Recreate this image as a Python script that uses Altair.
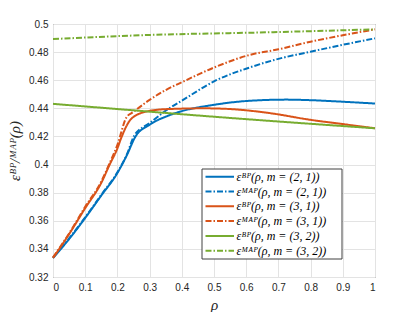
import altair as alt
import pandas as pd

# ---- data ----
bp21_rho = [0, 0.05, 0.1, 0.15, 0.2, 0.23, 0.255, 0.3, 0.357, 0.4, 0.5, 0.6, 0.725, 0.8, 0.9, 1.0]
bp21_val = [0.3335, 0.347, 0.362, 0.378, 0.394, 0.407, 0.4195, 0.4283, 0.4347, 0.438, 0.4425, 0.4452, 0.4462, 0.4458, 0.4447, 0.4434]

map21_rho = [0, 0.05, 0.1, 0.15, 0.2, 0.23, 0.252, 0.3, 0.357, 0.404, 0.507, 0.61, 0.7, 0.8, 0.9, 1.0]
map21_val = [0.3338, 0.3475, 0.3625, 0.3785, 0.3945, 0.4075, 0.4205, 0.4295, 0.4394, 0.446, 0.460, 0.469, 0.4752, 0.4803, 0.4852, 0.4898]

bp31_rho = [0, 0.05, 0.1, 0.15, 0.176, 0.2, 0.212, 0.243, 0.29, 0.35, 0.47, 0.55, 0.673, 0.8, 0.9, 1.0]
bp31_val = [0.3335, 0.3505, 0.369, 0.387, 0.40, 0.4115, 0.419, 0.4325, 0.4377, 0.4394, 0.4400, 0.4395, 0.4366, 0.4318, 0.4288, 0.4258]

map31_rho = [0, 0.05, 0.1, 0.15, 0.176, 0.2, 0.228, 0.25, 0.3, 0.35, 0.404, 0.507, 0.611, 0.7, 0.8, 0.9, 1.0]
map31_val = [0.334, 0.351, 0.370, 0.388, 0.401, 0.414, 0.4335, 0.4375, 0.446, 0.453, 0.459, 0.4697, 0.478, 0.482, 0.4874, 0.492, 0.4962]

bp32_rho = [0, 0.2, 0.4, 0.6, 0.8, 1.0]
bp32_val = [0.4432, 0.4395, 0.4358, 0.4323, 0.429, 0.4258]

map32_rho = [0, 0.3, 0.67, 1.0]
map32_val = [0.4893, 0.4922, 0.4941, 0.4962]

labels = [
    "εᴮᴾ(ρ, m = (2, 1))",
    "εᴹᴬᴾ(ρ, m = (2, 1))",
    "εᴮᴾ(ρ, m = (3, 1))",
    "εᴹᴬᴾ(ρ, m = (3, 1))",
    "εᴮᴾ(ρ, m = (3, 2))",
    "εᴹᴬᴾ(ρ, m = (3, 2))",
]
colors = ["#0072BD", "#0072BD", "#D95319", "#D95319", "#77AC30", "#77AC30"]
dashes = [[1, 0], [6, 2, 1.5, 2], [1, 0], [6, 2, 1.5, 2], [1, 0], [6, 2, 1.5, 2]]

x_ticks = [0, 0.1, 0.2, 0.3, 0.4, 0.5, 0.6, 0.7, 0.8, 0.9, 1.0]
y_ticks = [0.32, 0.34, 0.36, 0.38, 0.40, 0.42, 0.44, 0.46, 0.48, 0.50]

series = [
    (bp21_rho, bp21_val), (map21_rho, map21_val),
    (bp31_rho, bp31_val), (map31_rho, map31_val),
    (bp32_rho, bp32_val), (map32_rho, map32_val),
]
rows = []
for i, (rs, vs) in enumerate(series):
    for j, (r, v) in enumerate(zip(rs, vs)):
        rows.append({"rho": r, "v": v, "series": labels[i], "order": j})
df = pd.DataFrame(rows)
leg_df = pd.DataFrame({"series": labels})
box_df = pd.DataFrame({"k": [0]})

tick_font = "Liberation Sans"
axis_col = "#262626"

color_enc = alt.Color("series:N", scale=alt.Scale(domain=labels, range=colors), legend=None)
dash_enc = alt.StrokeDash("series:N", scale=alt.Scale(domain=labels, range=dashes), legend=None)

lines = alt.Chart(df).mark_line(strokeWidth=2, interpolate="monotone").encode(
    x=alt.X("rho:Q", scale=alt.Scale(domain=[0, 1], nice=False),
            axis=alt.Axis(values=x_ticks, format="~g", title="ρ", grid=True,
                          titleFont="Liberation Serif", titleFontStyle="italic",
                          titleFontWeight="normal", titleFontSize=15, titlePadding=5,
                          titleColor=axis_col)),
    y=alt.Y("v:Q", scale=alt.Scale(domain=[0.32, 0.5], nice=False, zero=False),
            axis=alt.Axis(values=y_ticks, format="~g", title="εᴮᴾ/ᴹᴬᴾ(ρ)", grid=True,
                          titleFont="Liberation Serif", titleFontStyle="italic",
                          titleFontWeight="normal", titleFontSize=15, titlePadding=6,
                          titleColor=axis_col)),
    color=color_enc,
    strokeDash=dash_enc,
    order="order:Q",
)

# legend (drawn as marks)
leg_box = alt.Chart(box_df).mark_rect(fill="white", stroke="#404040", strokeWidth=1).encode(
    x=alt.value(149), x2=alt.value(289), y=alt.value(145), y2=alt.value(235)
)
leg_y = alt.Y("series:N", scale=alt.Scale(type="point", domain=labels, range=[152.7, 226.7], padding=0),
              axis=None)
leg_lines = alt.Chart(leg_df).mark_rule(strokeWidth=2).encode(
    x=alt.value(152.5), x2=alt.value(181), y=leg_y, color=color_enc, strokeDash=dash_enc
)
leg_text = alt.Chart(leg_df).mark_text(align="left", baseline="middle", font="Liberation Serif",
                                       fontStyle="italic", fontSize=12, color="#000").encode(
    x=alt.value(183.5), y=leg_y, text="series:N"
)

chart = alt.layer(lines, leg_box, leg_lines, leg_text).resolve_scale(
    y="independent"
).properties(
    width=322, height=253,
    autosize=alt.AutoSizeParams(type="none"),
    padding={"left": 45, "top": 16, "right": 30, "bottom": 36},
).configure_axis(
    labelFont=tick_font, labelFontSize=10, labelColor=axis_col,
    domain=False, ticks=False, labelPadding=5,
    gridColor="#e3e3e3", gridWidth=1,
).configure_view(
    stroke="#555555", strokeWidth=1
)

chart.save("out.html", embed_options={"renderer": "svg", "actions": False})
